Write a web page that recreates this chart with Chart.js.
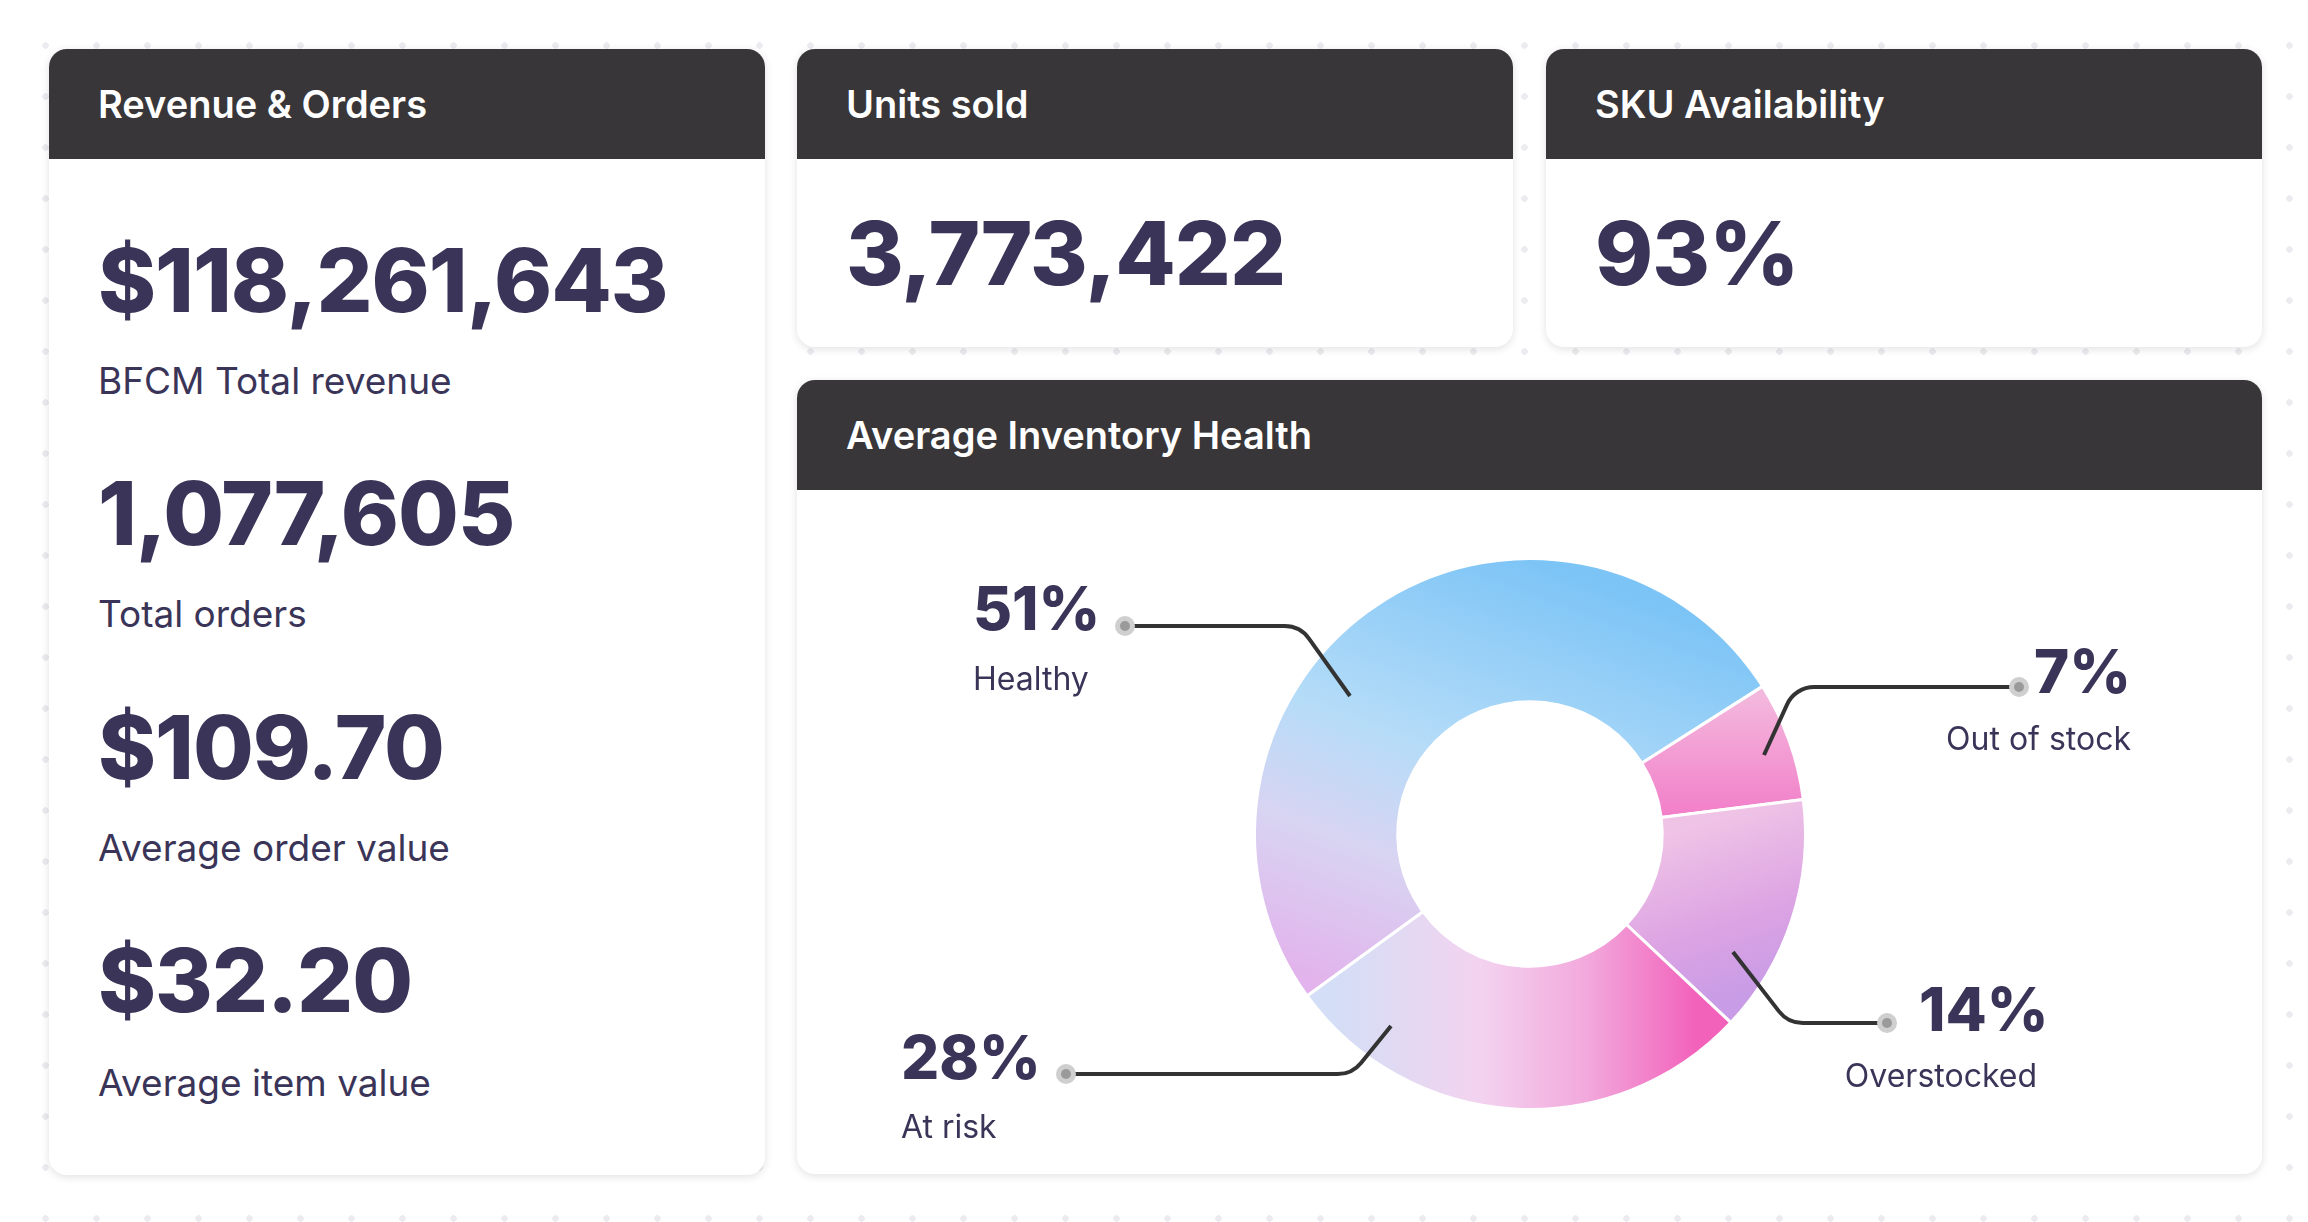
<!DOCTYPE html>
<html><head><meta charset="utf-8">
<script src="https://cdn.jsdelivr.net/npm/chart.js@4"></script>
<style>
html,body{margin:0;width:2308px;height:1222px;overflow:hidden;background:#fff;
background-image:radial-gradient(circle,#ececf0 3px,transparent 3.5px);background-size:51px 51px;background-position:20px 20px;font-family:Inter,"Noto Sans",sans-serif;color:#3a3558}
.card{position:absolute;background:#fff;border-radius:18px;box-shadow:0 2px 8px rgba(0,0,0,.12);overflow:hidden}
.hd{height:110px;background:#383638;color:#fff;font-size:38px;font-weight:600;line-height:110px;padding-left:49px}
.big{position:absolute;left:49px;font-size:88px;font-weight:800;letter-spacing:-1px;transform:translateY(-50%)}
.lab{position:absolute;left:49px;font-size:37px;font-weight:400;transform:translateY(-50%)}
</style></head><body>
<div class="card" style="left:49px;top:49px;width:716px;height:1126px">
 <div class="hd">Revenue &amp; Orders</div>
 <div class="big" id="v0" style="top:231px"></div><div class="lab" id="l0" style="top:331px"></div>
 <div class="big" id="v1" style="top:464px"></div><div class="lab" id="l1" style="top:564px"></div>
 <div class="big" id="v2" style="top:698px"></div><div class="lab" id="l2" style="top:798px"></div>
 <div class="big" id="v3" style="top:931px"></div><div class="lab" id="l3" style="top:1033px"></div>
</div>
<div class="card" style="left:797px;top:49px;width:716px;height:298px">
 <div class="hd">Units sold</div><div class="big" id="units" style="top:204px"></div>
</div>
<div class="card" style="left:1546px;top:49px;width:716px;height:298px">
 <div class="hd">SKU Availability</div><div class="big" id="sku" style="top:204px"></div>
</div>
<div class="card" style="left:797px;top:380px;width:1465px;height:794px">
 <div class="hd">Average Inventory Health</div>
 <div style="position:relative;width:1465px;height:684px"><canvas id="c"></canvas></div>
</div>
<script>
const kpiValues=["$118,261,643","1,077,605","$109.70","$32.20"];
const kpiLabels=["BFCM Total revenue","Total orders","Average order value","Average item value"];
const unitsSold="3,773,422";
const skuAvailability="93%";
const categories=["Healthy","Out of stock","Overstocked","At risk"];
const values=[51,7,14,28];

kpiValues.forEach((v,i)=>{document.getElementById('v'+i).textContent=v;document.getElementById('l'+i).textContent=kpiLabels[i];});
document.getElementById('units').textContent=unitsSold;
document.getElementById('sku').textContent=skuAvailability;

// leader layout relative to donut centre: dot, elbow, arc end, text anchor
const leaders=[
 {dot:[-405,-208],elb:[-270,-208],end:[-180,-138],tx:-557,ty:-222,ly:-154,al:'left',lal:'left',lx:-557},
 {dot:[489,-147],elb:[305,-147],end:[234,-79],tx:601,ty:-159,ly:-94,al:'right',lal:'right',lx:601},
 {dot:[357,189],elb:[298,189],end:[203,118],tx:389,ty:179,ly:243,al:'left',lal:'right',lx:507},
 {dot:[-464,240],elb:[-218,240],end:[-139,192],tx:-629,ty:227,ly:294,al:'left',lal:'left',lx:-629}
];
function grad(ctx,i){
 const ch=ctx.chart,a=ch.chartArea; if(!a) return '#ccc';
 const c=ch.ctx,cx=(a.left+a.right)/2,cy=(a.top+a.bottom)/2,r=(a.right-a.left)/2;
 let g;
 if(i===0){g=c.createLinearGradient(cx,cy-r,cx-r*0.6,cy+r*0.6);g.addColorStop(0,'#7cc4f6');g.addColorStop(0.45,'#b5dcf8');g.addColorStop(0.7,'#d8d4f2');g.addColorStop(1,'#e2b3ec');}
 else if(i===1){g=c.createLinearGradient(cx+r*0.7,cy-r*0.5,cx+r*0.7,cy);g.addColorStop(0,'#f3b8dd');g.addColorStop(1,'#f276c6');}
 else if(i===2){g=c.createLinearGradient(cx+r*0.5,cy,cx+r*0.7,cy+r*0.6);g.addColorStop(0,'#efc3e6');g.addColorStop(0.6,'#dca3e3');g.addColorStop(1,'#c89ce6');}
 else {g=c.createLinearGradient(cx-r*0.7,cy,cx+r*0.6,cy);g.addColorStop(0,'#d4def6');g.addColorStop(0.4,'#f3d3ef');g.addColorStop(0.7,'#f2a8dc');g.addColorStop(1,'#f262bb');}
 return g;
}
const leaderPlugin={id:'leaders',afterDraw(ch){
 const a=ch.chartArea,c=ch.ctx,cx=(a.left+a.right)/2,cy=(a.top+a.bottom)/2;
 leaders.forEach((L,i)=>{
  c.save();c.strokeStyle='#333';c.lineWidth=4;c.lineJoin='round';
  c.beginPath();c.moveTo(cx+L.dot[0],cy+L.dot[1]);
  const sx=Math.sign(L.end[0]-L.elb[0]);
  c.lineTo(cx+L.elb[0]-sx*0,cy+L.elb[1]);
  c.arcTo(cx+L.elb[0]+sx*40,cy+L.elb[1],cx+L.end[0],cy+L.end[1],30);
  c.lineTo(cx+L.end[0],cy+L.end[1]);c.stroke();
  c.fillStyle='#cfcfcf';c.beginPath();c.arc(cx+L.dot[0],cy+L.dot[1],10,0,7);c.fill();
  c.fillStyle='#9a9a9a';c.beginPath();c.arc(cx+L.dot[0],cy+L.dot[1],5,0,7);c.fill();
  c.fillStyle='#3a3558';c.textBaseline='middle';
  c.font='800 60px Inter';c.textAlign=L.al;c.fillText(values[i]+'%',cx+L.tx,cy+L.ty);
  c.font='400 32px Inter';c.textAlign=L.lal;c.fillText(categories[i],cx+L.lx,cy+L.ly);
  c.restore();
 });
}};
new Chart(document.getElementById('c'),{type:'doughnut',
 data:{labels:categories,datasets:[{data:values,backgroundColor:ctx=>grad(ctx,ctx.dataIndex),borderColor:'#fff',borderWidth:3}]},
 options:{responsive:true,maintainAspectRatio:false,animation:false,rotation:234,cutout:'48%',
  layout:{padding:{left:456,right:455,top:67,bottom:63}},
  plugins:{legend:{display:false},tooltip:{enabled:false}}},
 plugins:[leaderPlugin]});
</script>
</body></html>
